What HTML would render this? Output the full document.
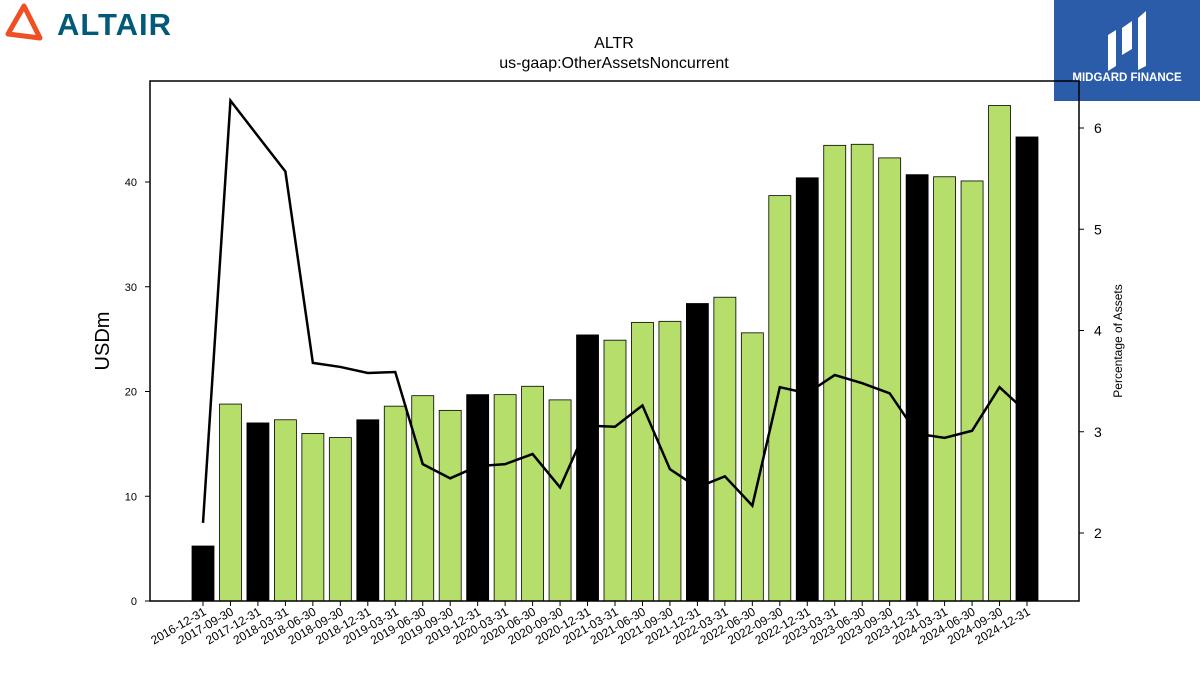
<!DOCTYPE html>
<html><head><meta charset="utf-8"><style>
body{margin:0;background:#fff;width:1200px;height:675px;overflow:hidden;font-family:"Liberation Sans","DejaVu Sans",sans-serif}
</style></head><body>
<svg width="1200" height="675" xmlns="http://www.w3.org/2000/svg" id="chart">
<g>
<path d="M24 6 L8 34 L40 38 Z" fill="none" stroke="#f04e23" stroke-width="5" stroke-linejoin="round"/>
<text x="57" y="35" font-size="31" font-weight="bold" fill="#005a78" letter-spacing="1">ALTAIR</text>
</g>
<g>
<rect x="1054" y="0" width="146" height="101" fill="#2a5caa"/>
<path d="M1108 35 l8 -5 v36 l-8 5z M1122 28 l10 -7 v28 l-10 6z M1138 18 l8 -7 v55 l-8 4z" fill="#fff"/>
<text x="1127" y="81" font-size="11.5" font-weight="bold" fill="#fff" text-anchor="middle">MIDGARD FINANCE</text>
</g>
<text x="614" y="48" font-size="16" text-anchor="middle">ALTR</text>
<text x="614" y="68" font-size="16" text-anchor="middle">us-gaap:OtherAssetsNoncurrent</text>
<g id="bars"></g><g id="xaxis"></g><g id="yl"></g><g id="yr"></g>
<path id="line" fill="none" stroke="#000" stroke-width="2.5"/>
<rect x="150" y="81" width="929" height="520" fill="none" stroke="#000" stroke-width="1.5"/>
<text transform="translate(109,341) rotate(-90)" font-size="20" text-anchor="middle">USDm</text>
<text transform="translate(1122,341) rotate(-90)" font-size="12" text-anchor="middle">Percentage of Assets</text>
</svg>
<script>
const categories=["2016-12-31","2017-09-30","2017-12-31","2018-03-31","2018-06-30","2018-09-30","2018-12-31","2019-03-31","2019-06-30","2019-09-30","2019-12-31","2020-03-31","2020-06-30","2020-09-30","2020-12-31","2021-03-31","2021-06-30","2021-09-30","2021-12-31","2022-03-31","2022-06-30","2022-09-30","2022-12-31","2023-03-31","2023-06-30","2023-09-30","2023-12-31","2024-03-31","2024-06-30","2024-09-30","2024-12-31"];
const values=[5.25,18.8,17.0,17.3,16.0,15.6,17.3,18.6,19.6,18.2,19.7,19.7,20.5,19.2,25.4,24.9,26.6,26.7,28.4,29.0,25.6,38.7,40.4,43.5,43.6,42.3,40.7,40.5,40.1,47.3,44.3];
const pct=[2.10,6.27,5.92,5.57,3.68,3.64,3.58,3.59,2.68,2.54,2.66,2.68,2.78,2.45,3.06,3.05,3.26,2.63,2.45,2.56,2.27,3.44,3.38,3.56,3.48,3.38,2.98,2.94,3.01,3.44,3.19];
const leftTicks=[0,10,20,30,40];
const rightTicks=[2,3,4,5,6];
const NS="http://www.w3.org/2000/svg";
const x=i=>203+i*(1027-203)/(categories.length-1);
const yL=v=>601-v*10.475;
const yR=v=>533-(v-2)*101.25;
function mk(t,a,p){const e=document.createElementNS(NS,t);for(const k in a)e.setAttribute(k,a[k]);p.appendChild(e);return e;}
const bars=document.getElementById('bars'),xa=document.getElementById('xaxis'),yl=document.getElementById('yl'),yr=document.getElementById('yr');
categories.forEach((c,i)=>{
  const black=c.endsWith('12-31');
  const r=mk('rect',{x:x(i)-11,y:yL(values[i]),width:22,height:601-yL(values[i]),fill:black?'#000':'#b5de6a',stroke:'#000','stroke-width':0.8},bars);
  
  
  mk('line',{x1:x(i),x2:x(i),y1:601,y2:606,stroke:'#000'},xa);
  const t=mk('text',{x:x(i)+4,y:614,'font-size':12,'text-anchor':'end',transform:`rotate(-30 ${x(i)+4} 614)`},xa);
  t.textContent=c;
  
  
});
leftTicks.forEach(v=>{
  mk('line',{x1:145,x2:150,y1:yL(v),y2:yL(v),stroke:'#000'},yl);
  const t=mk('text',{x:137,y:yL(v)+4,'font-size':11,'text-anchor':'end'},yl);
  t.textContent=v;
  
  
});
rightTicks.forEach(v=>{
  mk('line',{x1:1079,x2:1084,y1:yR(v),y2:yR(v),stroke:'#000'},yr);
  const t=mk('text',{x:1094,y:yR(v)+5,'font-size':14},yr);
  t.textContent=v;
  
  
});
document.getElementById('line').setAttribute('d',pct.map((v,i)=>(i?'L':'M')+x(i)+' '+yR(v)).join(' '));
</script>
</body></html>
